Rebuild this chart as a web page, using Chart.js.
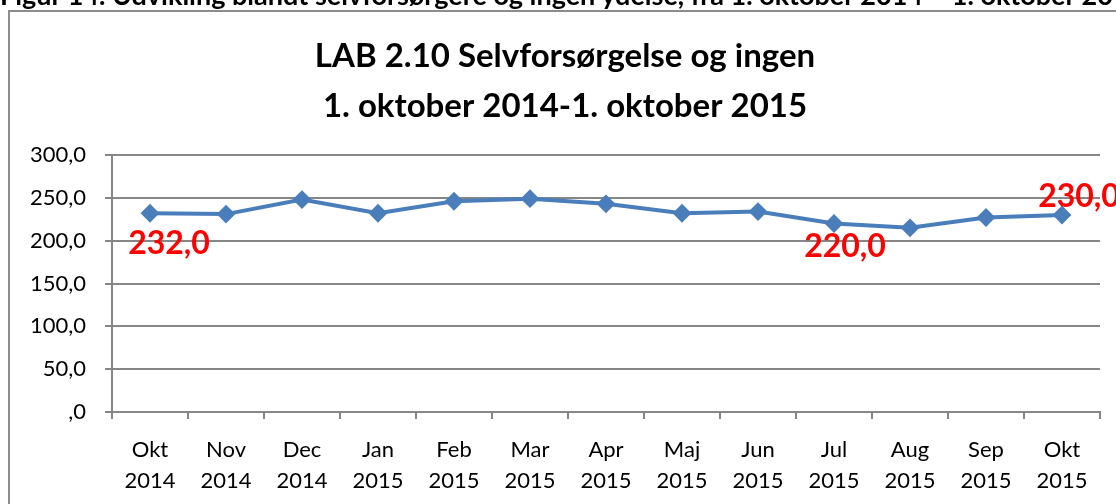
<!DOCTYPE html>
<html>
<head>
<meta charset="utf-8">
<script src="https://cdn.jsdelivr.net/npm/chart.js@4.4.0/dist/chart.umd.min.js"></script>
<style>
  html, body { margin: 0; padding: 0; background: #fff; overflow: hidden; }
  body { width: 1116px; height: 504px; position: relative; }
  #caption {
    position: absolute; left: 0; top: -19px; white-space: nowrap;
    font: bold 27px Lato, sans-serif; line-height: 27px; color: #000; z-index: 2;
  }
  #wrap { position: absolute; left: 0; top: 0; width: 1140px; height: 504px; }
</style>
</head>
<body>
<div id="caption">Figur 14. Udvikling blandt selvforsørgere og ingen ydelse, fra 1. oktober 2014 – 1. oktober 2015</div>
<div id="wrap"><canvas id="chart" width="1140" height="504"></canvas></div>
<script>
const months = ['Okt', 'Nov', 'Dec', 'Jan', 'Feb', 'Mar', 'Apr', 'Maj', 'Jun', 'Jul', 'Aug', 'Sep', 'Okt'];
const years = ['2014', '2014', '2014', '2015', '2015', '2015', '2015', '2015', '2015', '2015', '2015', '2015', '2015'];
const values = [232, 231, 248, 232, 246, 249, 243, 232, 234, 220, 215, 227, 230];
const yTicks = [0, 50, 100, 150, 200, 250, 300];
const labelledPoints = [0, 9, 12];

const labels = months.map((m, i) => [m, years[i]]);

// where the red value labels sit relative to their point (px)
const labelOffsets = { 0: [19, 30], 9: [11, 23], 12: [17, -18] };

const fmt = v => (v === 0 ? ',0' : v.toFixed(1).replace('.', ','));

const frame = {
  id: 'frame',
  beforeDraw(chart) {
    const ctx = chart.ctx;
    ctx.save();
    ctx.fillStyle = '#fff';
    ctx.fillRect(0, 0, chart.width, chart.height);
    ctx.strokeStyle = '#8c8c8c';
    ctx.lineWidth = 2;
    ctx.strokeRect(9, 11, 1300, 800);
    ctx.restore();
  }
};

const valueLabels = {
  id: 'valueLabels',
  afterDatasetsDraw(chart) {
    const ctx = chart.ctx;
    const xs = chart.scales.x, ys = chart.scales.y;
    ctx.save();
    ctx.font = 'bold 32px Lato, sans-serif';
    ctx.fillStyle = '#ff0000';
    ctx.textAlign = 'center';
    ctx.textBaseline = 'middle';
    labelledPoints.forEach(i => {
      const off = labelOffsets[i];
      ctx.fillText(fmt(values[i]), xs.getPixelForValue(i) + off[0], ys.getPixelForValue(values[i]) + off[1]);
    });
    ctx.restore();
  }
};

new Chart(document.getElementById('chart'), {
  type: 'line',
  data: {
    labels: labels,
    datasets: [{
      data: values,
      borderColor: '#4a7ebb',
      backgroundColor: '#4a7ebb',
      borderWidth: 4,
      pointStyle: 'rectRot',
      pointRadius: 8,
      pointBorderWidth: 2,
      tension: 0,
    }],
  },
  plugins: [frame, valueLabels],
  options: {
    responsive: false,
    animation: false,
    devicePixelRatio: 1,
    layout: { padding: { left: 30, right: 40, top: 0, bottom: 0 } },
    plugins: {
      legend: { display: false },
      tooltip: { enabled: false },
      title: {
        display: true,
        text: ['LAB 2.10 Selvforsørgelse og ingen', '1. oktober 2014-1. oktober 2015'],
        color: '#000',
        font: { family: 'Lato', size: 33, weight: 'bold', lineHeight: 1.5 },
        padding: { top: 32, bottom: 24 },
      },
    },
    scales: {
      x: {
        offset: true,
        grid: { offset: true, drawOnChartArea: false, color: '#868686', lineWidth: 2, tickLength: 7 },
        border: { color: '#868686', width: 2 },
        ticks: { color: '#000', padding: 16, maxRotation: 0, font: { family: 'Lato', size: 22, lineHeight: 1.4 } },
        afterFit(scale) { scale.height = 92; },
      },
      y: {
        min: 0,
        max: 300,
        afterBuildTicks(scale) { scale.ticks = yTicks.map(v => ({ value: v })); },
        grid: { color: '#868686', lineWidth: 2, tickLength: 7 },
        border: { color: '#868686', width: 2 },
        ticks: { color: '#000', padding: 19, callback: v => fmt(v), font: { family: 'Lato', size: 22 } },
        afterFit(scale) { scale.width = 82; },
      },
    },
  },
});
</script>
</body>
</html>
